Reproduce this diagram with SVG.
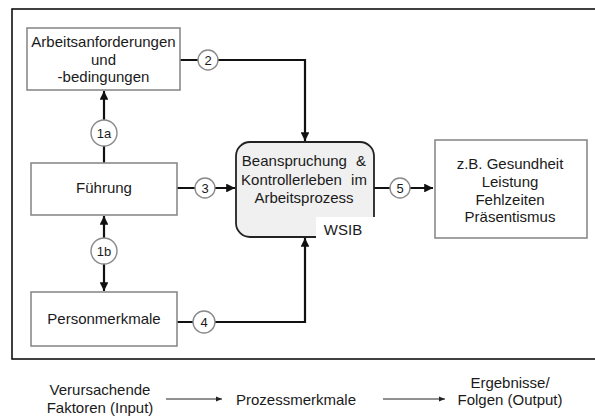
<svg xmlns="http://www.w3.org/2000/svg" width="595" height="416" viewBox="0 0 595 416">
<style>
text{font-family:"Liberation Sans",Arial,sans-serif;font-size:15px;fill:#1a1a1a;text-anchor:middle}
.box{fill:#fff;stroke:#8a8a8a;stroke-width:1.6}
.num{fill:#fff;stroke:#8a8a8a;stroke-width:1.4}
.num-t{font-size:13px}
.con{fill:none;stroke:#111;stroke-width:2.2}
.leg{fill:none;stroke:#222;stroke-width:1}
</style>
<defs>
<marker id="ah" viewBox="0 0 10 10" refX="10" refY="5" markerWidth="4" markerHeight="4" orient="auto-start-reverse" markerUnits="strokeWidth">
<path d="M0,0 L10,5 L0,10 z" fill="#111"/>
</marker>
<marker id="ahs" viewBox="0 0 10 10" refX="10" refY="5" markerWidth="7" markerHeight="6" orient="auto" markerUnits="strokeWidth">
<path d="M0,1 L10,5 L0,9 z" fill="#222"/>
</marker>
</defs>
<rect width="595" height="416" fill="#fff"/>
<rect x="12" y="9" width="600" height="350" fill="none" stroke="#111" stroke-width="1.6"/>

<g id="connectors">
<path class="con" d="M104,163 V91" marker-end="url(#ah)"/>
<path class="con" d="M104,216 V291" marker-start="url(#ah)" marker-end="url(#ah)"/>
<path class="con" d="M180,60 H305 V141" marker-end="url(#ah)"/>
<path class="con" d="M177,188 H235" marker-end="url(#ah)"/>
<path class="con" d="M177,322 H305 V238" marker-end="url(#ah)"/>
<path class="con" d="M374,188 H433" marker-end="url(#ah)"/>
</g>

<g id="n-arbeit">
<rect class="box" x="27" y="28" width="153" height="62"/>
<text x="103.5" y="47">Arbeitsanforderungen</text>
<text x="103.5" y="64.5">und</text>
<text x="103.5" y="82">-bedingungen</text>
</g>
<g id="n-fuehrung">
<rect class="box" x="31" y="163" width="146" height="52"/>
<text x="104" y="193">Führung</text>
</g>
<g id="n-person">
<rect class="box" x="31" y="292" width="146" height="54"/>
<text x="104" y="324">Personmerkmale</text>
</g>
<g id="n-prozess">
<rect x="236" y="142" width="138" height="95" rx="14" fill="#f0f0f0" stroke="#222" stroke-width="1.8"/>
<rect x="316" y="217" width="64" height="24" fill="#fff"/>
<text x="304" y="166" word-spacing="5">Beanspruchung &amp;</text>
<text x="304" y="185" word-spacing="5">Kontrollerleben im</text>
<text x="304" y="203">Arbeitsprozess</text>
<text x="343" y="235">WSIB</text>
</g>
<g id="n-output">
<rect class="box" x="435" y="140" width="152" height="98"/>
<text x="510" y="169">z.B. Gesundheit</text>
<text x="510" y="187">Leistung</text>
<text x="510" y="204.5">Fehlzeiten</text>
<text x="510" y="222">Präsentismus</text>
</g>

<g id="c-1a"><circle class="num" cx="104" cy="133" r="13"/><text class="num-t" x="104" y="137.5">1a</text></g>
<g id="c-1b"><circle class="num" cx="104" cy="251" r="13"/><text class="num-t" x="104" y="255.5">1b</text></g>
<g id="c-2"><circle class="num" cx="208" cy="60" r="10"/><text class="num-t" x="208" y="64.5">2</text></g>
<g id="c-3"><circle class="num" cx="205" cy="188" r="10"/><text class="num-t" x="205" y="192.5">3</text></g>
<g id="c-4"><circle class="num" cx="204" cy="322" r="11"/><text class="num-t" x="204" y="326.5">4</text></g>
<g id="c-5"><circle class="num" cx="400" cy="188" r="10"/><text class="num-t" x="400" y="192.5">5</text></g>

<g id="legend">
<text x="100" y="395">Verursachende</text>
<text x="100" y="413">Faktoren (Input)</text>
<path class="leg" d="M166,399 H222" marker-end="url(#ahs)"/>
<text x="296" y="405">Prozessmerkmale</text>
<path class="leg" d="M383,399 H445" marker-end="url(#ahs)"/>
<text x="510" y="388">Ergebnisse/</text>
<text x="510" y="405">Folgen (Output)</text>
</g>
</svg>
